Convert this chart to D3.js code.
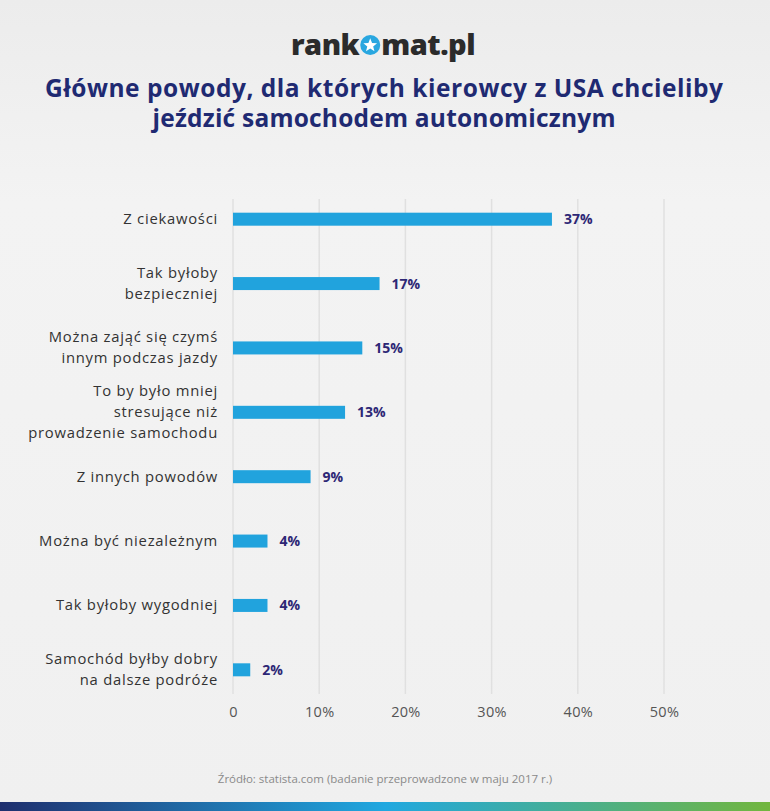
<!DOCTYPE html>
<html><head><meta charset="utf-8">
<script src="https://cdn.jsdelivr.net/npm/d3@7"></script>
<style>body{margin:0;padding:0;overflow:hidden}svg{display:block}</style>
</head><body>
<script>
const categories = [
  ["Z ciekawości"],
  ["Tak byłoby", "bezpieczniej"],
  ["Można zająć się czymś", "innym podczas jazdy"],
  ["To by było mniej", "stresujące niż", "prowadzenie samochodu"],
  ["Z innych powodów"],
  ["Można być niezależnym"],
  ["Tak byłoby wygodniej"],
  ["Samochód byłby dobry", "na dalsze podróże"]
];
const values = [37, 17, 15, 13, 9, 4, 4, 2];
const tickValues = [0, 10, 20, 30, 40, 50];
const tickLabels = ["0", "10%", "20%", "30%", "40%", "50%"];
const titleLines = ["Główne powody, dla których kierowcy z USA chcieliby", "jeździć samochodem autonomicznym"];
const sourceText = "Źródło: statista.com (badanie przeprowadzone w maju 2017 r.)";

const W = 770, H = 811;
const FONT = "'Open Sans', 'DejaVu Sans', sans-serif";
const svg = d3.select("body").append("svg").attr("width", W).attr("height", H);
const defs = svg.append("defs");
const bg = defs.append("linearGradient").attr("id","bg").attr("x1",0).attr("y1",0).attr("x2",0).attr("y2",1);
bg.append("stop").attr("offset","0").attr("stop-color","#ececec");
bg.append("stop").attr("offset","0.25").attr("stop-color","#f3f3f3");
bg.append("stop").attr("offset","1").attr("stop-color","#f0f0f0");
const bar = defs.append("linearGradient").attr("id","bot").attr("x1",0).attr("y1",0).attr("x2",1).attr("y2",0);
bar.append("stop").attr("offset","0").attr("stop-color","#1f2f6e");
bar.append("stop").attr("offset","0.5").attr("stop-color","#20a8e0");
bar.append("stop").attr("offset","1").attr("stop-color","#72b63e");

svg.append("rect").attr("width",W).attr("height",H).attr("fill","url(#bg)");
svg.append("rect").attr("x",0).attr("y",802).attr("width",W).attr("height",9).attr("fill","url(#bot)");

// logo
const logo = svg.append("g").attr("font-family", FONT).attr("font-weight", 800).attr("font-size", 29).attr("fill", "#2b2b2b");
const t1 = logo.append("text").attr("x", 291).attr("y", 55).attr("letter-spacing", -0.5).text("rank");
const w1 = t1.node().getComputedTextLength();
const cx = 291 + w1 + 11;
logo.append("circle").attr("cx", cx).attr("cy", 45).attr("r", 10).attr("fill", "#29a7e0");
const star = d3.range(10).map(i => {
  const a = -Math.PI/2 + i*Math.PI/5, r = i%2 ? 3.1 : 7.2;
  return [cx + r*Math.cos(a), 45.5 + r*Math.sin(a)];
});
logo.append("path").attr("d", d3.line()(star) + "Z").attr("fill", "#fff");
logo.append("text").attr("x", cx + 11).attr("y", 55).attr("letter-spacing", -0.5).text("mat.pl");

// title
const titleW = [678, 463];
svg.append("g").selectAll("text").data(titleLines).join("text")
  .attr("x", W/2 - 1).attr("y", (d,i) => 97 + i*30)
  .attr("text-anchor","middle").attr("font-family", FONT).attr("font-weight", 700)
  .attr("font-size", 24.5).attr("fill", "#1f2a72")
  .attr("textLength", (d,i) => titleW[i]).attr("lengthAdjust", "spacing").text(d => d);

// scales
const x = d3.scaleLinear().domain([0, 50]).range([233, 664]);
const y = d3.scaleBand().domain(d3.range(values.length)).range([187, 702]).paddingInner(0.8).paddingOuter(0.4);

// grid
svg.append("g").selectAll("line").data(tickValues).join("line")
  .attr("x1", d => x(d)).attr("x2", d => x(d)).attr("y1", 199).attr("y2", 694)
  .attr("stroke", "#e0e0e0").attr("stroke-width", 1.5);

// axis
const axis = d3.axisBottom(x).tickValues(tickValues).tickFormat((d,i) => tickLabels[i]).tickSize(0).tickPadding(0);
const ag = svg.append("g").attr("transform", "translate(0,717)").call(axis);
ag.select(".domain").remove();
ag.selectAll("text").attr("font-family", FONT).attr("font-size", 14.5).attr("letter-spacing", 0.3).attr("fill", "#555").attr("dy", "0");

// bars
const bh = 13;
svg.append("g").selectAll("rect").data(values).join("rect")
  .attr("x", x(0)).attr("y", (d,i) => y(i) + y.bandwidth()/2 - bh/2)
  .attr("width", d => x(d) - x(0)).attr("height", bh).attr("fill", "#21a3dd");

// value labels
svg.append("g").selectAll("text").data(values).join("text")
  .attr("x", d => x(d) + 12).attr("y", (d,i) => y(i) + y.bandwidth()/2 + 5)
  .attr("font-family", FONT).attr("font-weight", 700).attr("font-size", 14)
  .attr("fill", "#2d2775").text(d => d + "%");

// category labels
const cg = svg.append("g").selectAll("text").data(categories).join("text")
  .attr("text-anchor", "end").attr("font-family", FONT).attr("font-size", 14.8)
  .attr("letter-spacing", 0.75).attr("fill", "#333");
cg.each(function(lines, i) {
  const cy = y(i) + y.bandwidth()/2;
  const lh = 21;
  d3.select(this).selectAll("tspan").data(lines).join("tspan")
    .attr("x", 218).attr("y", (d,j) => cy + 5 + (j - (lines.length-1)/2)*lh).text(d => d);
});

// source
svg.append("text").attr("x", W/2).attr("y", 783).attr("text-anchor","middle")
  .attr("font-family", FONT).attr("font-size", 11.5).attr("fill", "#8a8a8a").text(sourceText);
</script>
</body></html>
